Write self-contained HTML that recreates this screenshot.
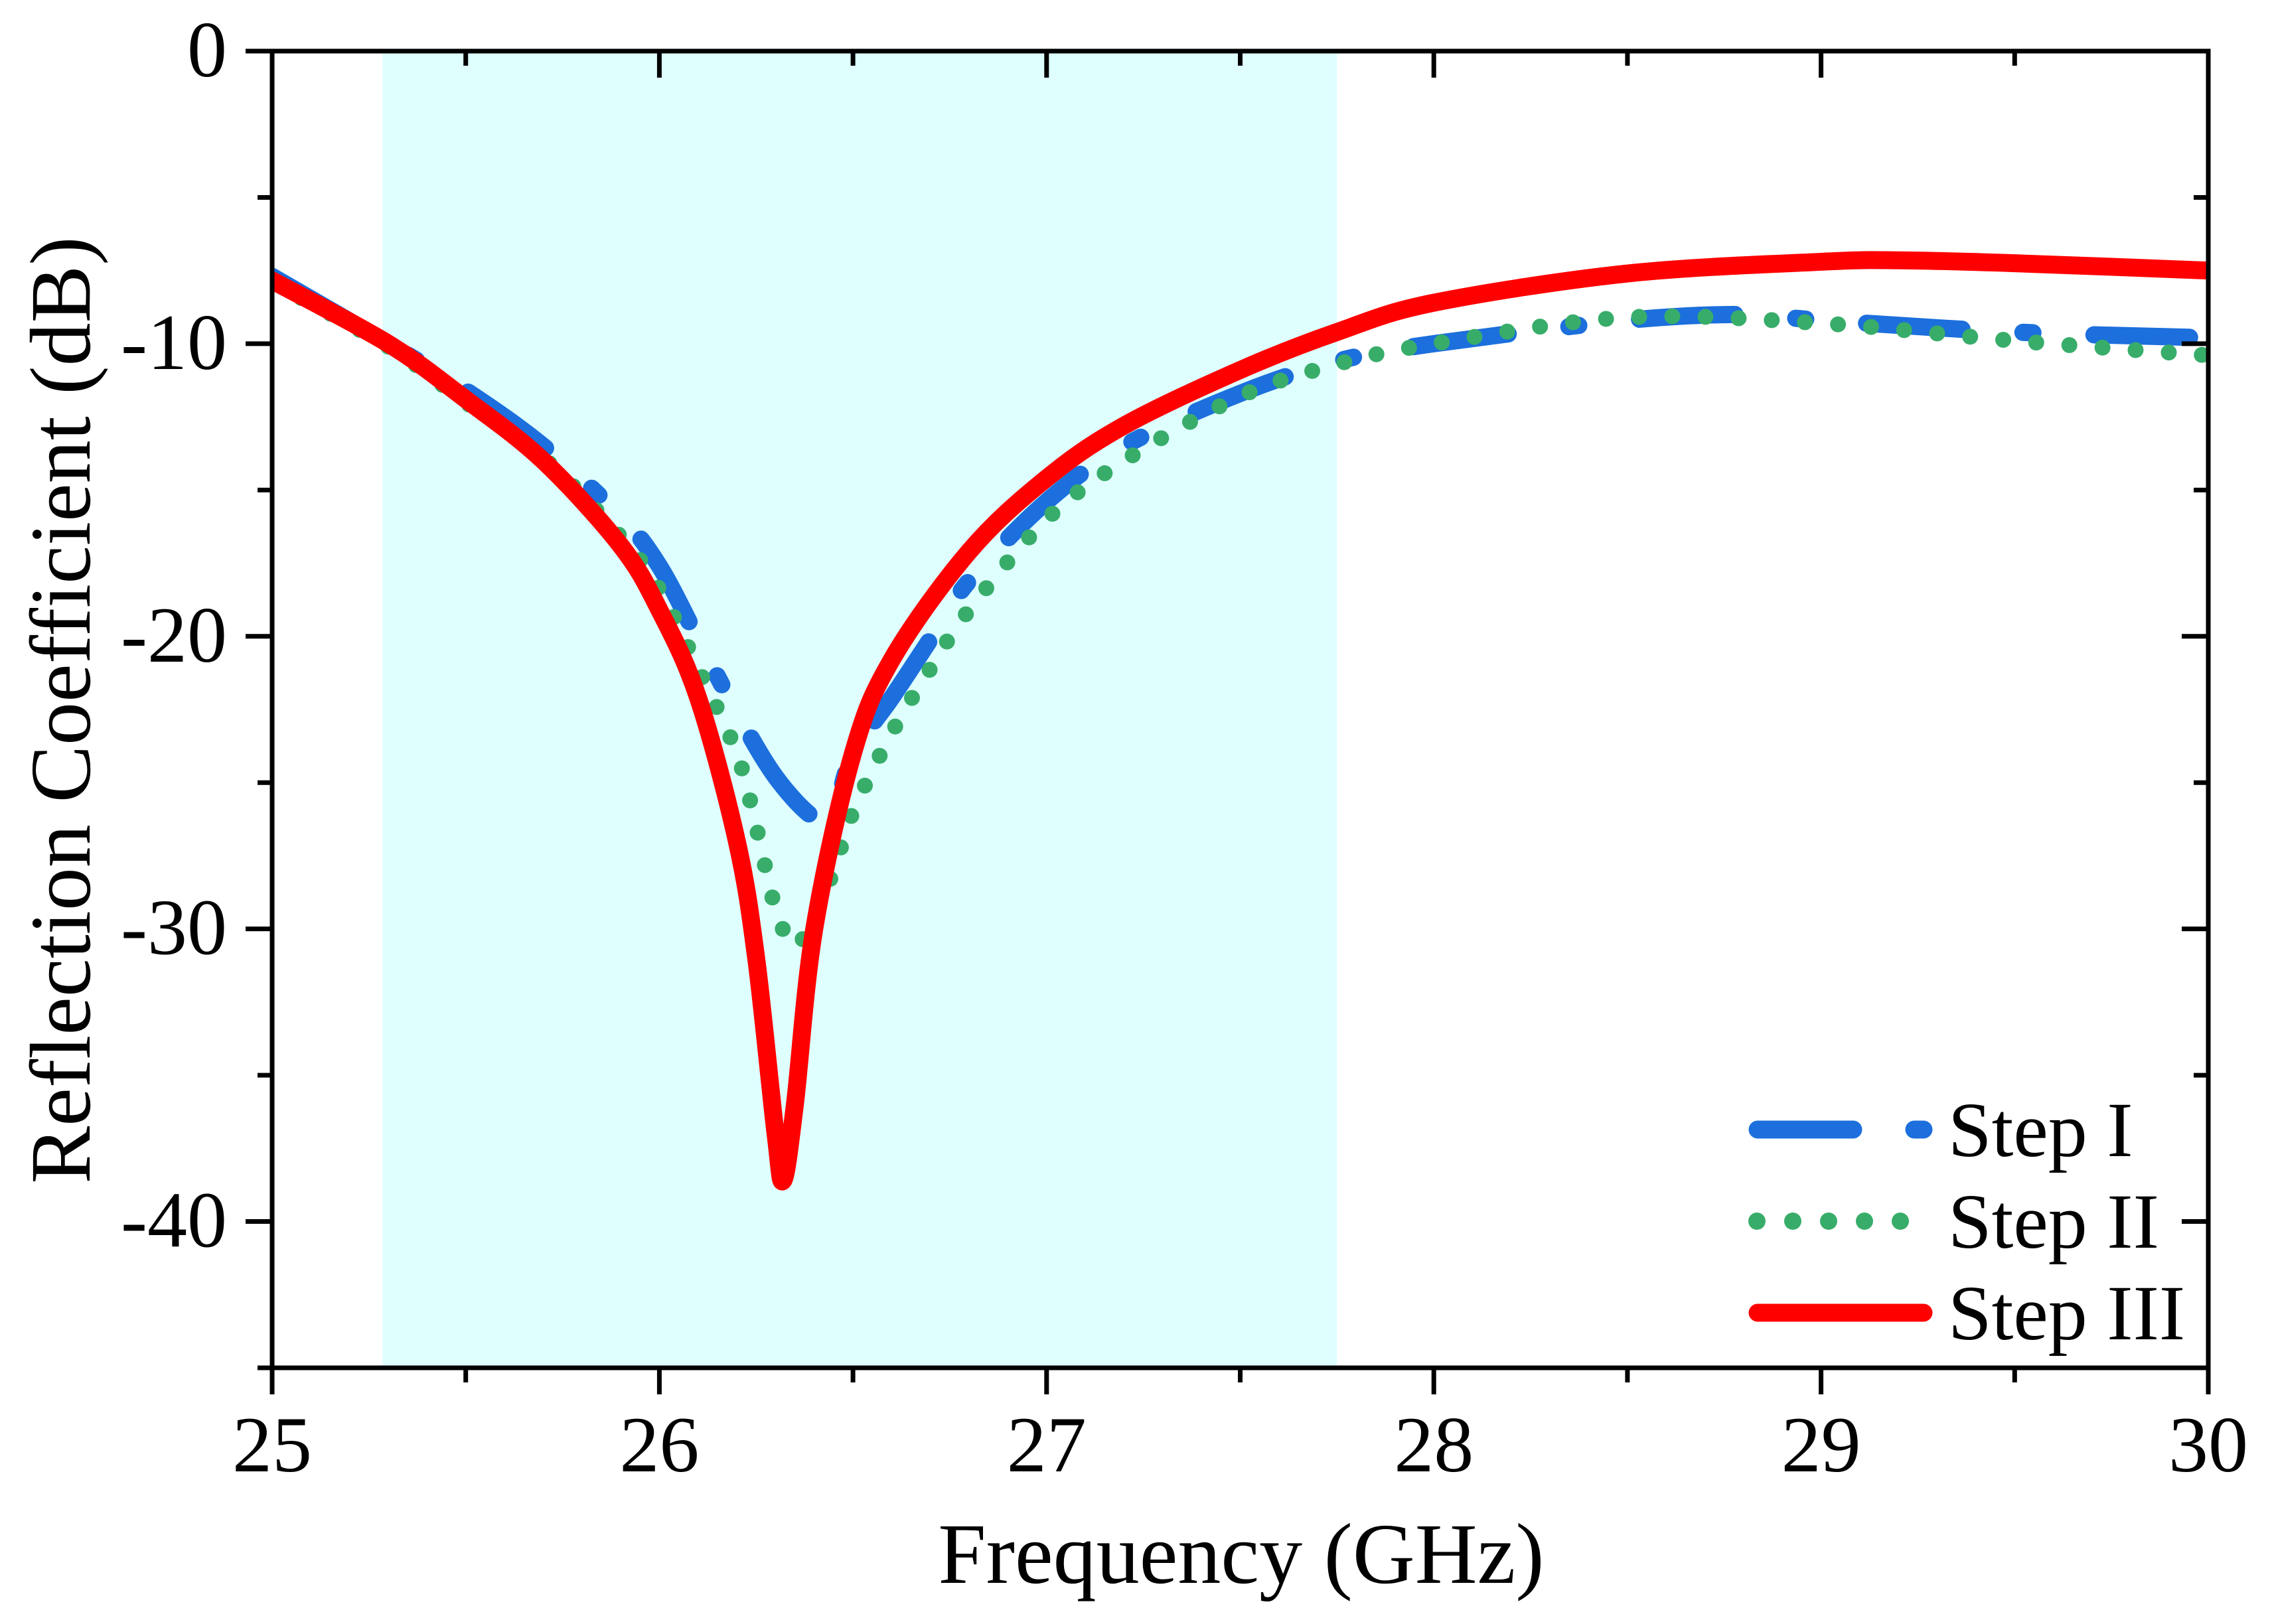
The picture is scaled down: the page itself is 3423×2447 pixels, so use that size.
<!DOCTYPE html>
<html><head><meta charset="utf-8"><style>
html,body{margin:0;padding:0;background:#fff;}
svg{display:block;font-family:"Liberation Serif",serif;}
</style></head><body>
<svg id="chart" width="3423" height="2447" viewBox="0 0 3423 2447">
<g id="plot"></g>
</svg>
<script>
const freqI = [25,25.3,25.5,25.7,25.9,26.0,26.1,26.2,26.3,26.4,26.45,26.5,26.6,26.7,26.8,27.0,27.2,27.5,27.75,28,28.5,28.8,29,29.5,30];
const stepI = [-7.7,-10,-11.6,-13.5,-15.9,-17.6,-20.1,-22.6,-24.8,-26.2,-26.0,-24,-22.1,-20.1,-18.1,-15.4,-13.5,-11.7,-10.6,-10,-9.2,-9.0,-9.2,-9.6,-9.8];
const freqII = [25,25.3,25.5,25.7,25.9,26.0,26.1,26.2,26.25,26.3,26.35,26.4,26.45,26.5,26.6,26.7,26.8,27.0,27.2,27.5,27.75,28,28.5,29,29.5,30];
const stepII = [-7.9,-10.1,-12,-13.9,-16.6,-18.4,-21.1,-24,-26.5,-29.3,-30.6,-29.5,-28,-26,-23.3,-21.1,-19.1,-16,-14,-11.8,-10.7,-10,-9.1,-9.3,-9.9,-10.4];
const freqIII = [25,25.3,25.5,25.7,25.9,26.0,26.1,26.2,26.25,26.3,26.32,26.35,26.4,26.5,26.6,26.8,27.0,27.2,27.5,27.75,28,28.5,29,29.2,29.5,30];
const stepIII = [-7.84,-10,-11.9,-14.0,-16.9,-19.1,-22.1,-27,-31,-37,-38.6,-36,-30,-24,-20.8,-17.1,-14.6,-12.8,-10.9,-9.6,-8.6,-7.6,-7.2,-7.15,-7.25,-7.5];
const xTicks = [25,26,27,28,29,30];
const yTicks = [0,-10,-20,-30,-40];
const band = [25.285,27.75];

const L=410,R=3327,T=77,B=2061;
const xs=f=>L+(f-25)/5*(R-L);
const ys=d=>T+(0-d)/45*(B-T);
const NS="http://www.w3.org/2000/svg";
const g=document.getElementById('plot');
function mk(tag,attrs,parent){const e=document.createElementNS(NS,tag);for(const k in attrs)e.setAttribute(k,attrs[k]);(parent||g).appendChild(e);return e;}

let r=mk('rect',{x:xs(band[0]),y:T,width:xs(band[1])-xs(band[0]),height:B-T,fill:'#dfffff'});



function smooth(fx,fy){
  const p=fx.map((f,i)=>[xs(f),ys(fy[i])]);
  let d='M'+p[0][0]+','+p[0][1];
  for(let i=0;i<p.length-1;i++){
    const p0=p[i-1]||p[i],p1=p[i],p2=p[i+1],p3=p[i+2]||p2;
    const c1=[p1[0]+(p2[0]-p0[0])/6,p1[1]+(p2[1]-p0[1])/6];
    const c2=[p2[0]-(p3[0]-p1[0])/6,p2[1]-(p3[1]-p1[1])/6];
    d+=`C${c1[0]},${c1[1]} ${c2[0]},${c2[1]} ${p2[0]},${p2[1]}`;
  }
  return d;
}
const clip=mk('clipPath',{id:'clp'});mk('rect',{x:L,y:T,width:R-L,height:B-T},clip);
let s1=mk('path',{d:smooth(freqI,stepI),fill:'none',stroke:'#1c6fdc','stroke-width':26,'stroke-dasharray':'144 92 15 92','stroke-linecap':'round','clip-path':'url(#clp)'});


let s2=mk('path',{d:smooth(freqII,stepII),fill:'none',stroke:'#38ad6a','stroke-width':24,'stroke-dasharray':'0 50','stroke-linecap':'round','clip-path':'url(#clp)'});


let s3=mk('path',{d:smooth(freqIII,stepIII),fill:'none',stroke:'#ff0000','stroke-width':27,'stroke-linejoin':'round','stroke-linecap':'round','clip-path':'url(#clp)'});



let fr=mk('rect',{x:L,y:T,width:R-L,height:B-T,fill:'none',stroke:'#000','stroke-width':7});



for(let f=25;f<=30.001;f+=0.5){
  const major=Math.abs(f-Math.round(f))<1e-6, x=xs(f), len=major?40:22;
  mk('line',{x1:x,y1:B,x2:x,y2:B+len,stroke:'#000','stroke-width':7});
  mk('line',{x1:x,y1:T,x2:x,y2:T+len,stroke:'#000','stroke-width':7});
}
for(let d=0;d>=-45;d-=5){
  const major=d%10===0, y=ys(d), len=major?40:22;
  mk('line',{x1:L,y1:y,x2:L-len,y2:y,stroke:'#000','stroke-width':7});
  mk('line',{x1:R,y1:y,x2:R-len,y2:y,stroke:'#000','stroke-width':7});
}
xTicks.forEach(f=>{
  const t=mk('text',{x:xs(f),y:2217,'font-size':120,'text-anchor':'middle'});t.textContent=f;
  
  
});
yTicks.forEach(d=>{
  const t=mk('text',{x:342,y:ys(d)+38,'font-size':120,'text-anchor':'end'});t.textContent=d;
  
  
});
let xt=mk('text',{x:1870,y:2385,'font-size':130,'text-anchor':'middle'});xt.textContent='Frequency (GHz)';


let yt=mk('text',{x:0,y:0,'font-size':130,'text-anchor':'middle',transform:'translate(135,1070) rotate(-90)'});yt.textContent='Reflection Coefficient (dB)';



const leg=[['Step I','#1c6fdc',{'stroke-dasharray':'144 92 15 92','stroke-linecap':'round','stroke-width':27}],
['Step II','#38ad6a',{'stroke-dasharray':'0 54','stroke-linecap':'round','stroke-width':26}],
['Step III','#ff0000',{'stroke-linecap':'round','stroke-width':27}]];
const ly=[1702,1840,1978];
leg.forEach((l,i)=>{
  const a=Object.assign({x1:2648,y1:ly[i],x2:2898,y2:ly[i],stroke:l[1]},l[2]);
  if(i===1){a.x1=2647;a.x2=2870;}
  const ln=mk('line',a);
  
  
  const t=mk('text',{x:2935,y:ly[i]+40,'font-size':118});t.textContent=l[0];
  
  
});
</script>
</body></html>
